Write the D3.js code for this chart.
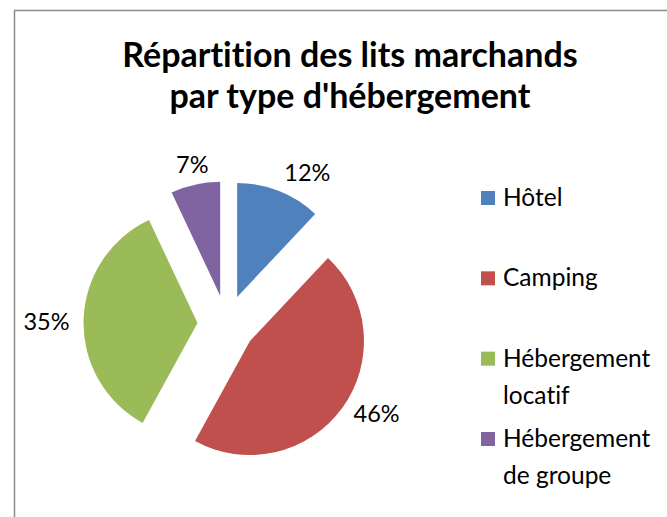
<!DOCTYPE html>
<html>
<head>
<meta charset="utf-8">
<script src="https://cdn.jsdelivr.net/npm/d3@7"></script>
<style>
  body { margin: 0; background: #fff; }
  svg { display: block; font-family: Lato, "Open Sans", sans-serif; }
  text, tspan { font-variant-ligatures: none; font-feature-settings: "liga" 0, "clig" 0, "dlig" 0; }
  .title { font-weight: bold; font-size: 34px; fill: #000; }
  .pct { font-size: 23.5px; fill: #000; }
  .legend-text { font-size: 24.5px; fill: #000; }
</style>
</head>
<body>
<svg width="667" height="517"></svg>
<script>
// chart data
const categories = ['Hôtel', 'Camping', 'Hébergement locatif', 'Hébergement de groupe'];
const shares = [12, 46, 35, 7];
const colors = ['#4F81BD', '#C0504D', '#9BBB59', '#8064A2'];
const legendLines = [['Hôtel'], ['Camping'], ['Hébergement', 'locatif'], ['Hébergement', 'de groupe']];
const titleLines = ['Répartition des lits marchands', "par type d'hébergement"];

const svg = d3.select('svg');
const width = Number(svg.attr('width'));
const height = Number(svg.attr('height'));

// chart frame (right and bottom edges fall outside the picture)
svg.append('rect')
    .attr('x', 14.5).attr('y', 10.5)
    .attr('width', width + 20).attr('height', height + 20)
    .attr('fill', '#fff')
    .attr('stroke', '#8c8c8c')
    .attr('stroke-width', 1.5);

// title
svg.append('text')
    .attr('class', 'title')
    .attr('text-anchor', 'middle')
    .selectAll('tspan')
    .data(titleLines)
    .enter()
    .append('tspan')
    .attr('x', 350)
    .attr('y', (d, i) => 67 + i * 41)
    .text(d => d);

// pie
const cx = 226.5, cy = 324;
const radius = 114;
const explode = 29;

const pie = d3.pie().sort(null).value(d => d);
const arcs = pie(shares);
const arc = d3.arc().innerRadius(0).outerRadius(radius);

const pieG = svg.append('g').attr('transform', `translate(${cx},${cy})`);

const slices = pieG.selectAll('.slice')
    .data(arcs)
    .enter()
    .append('g')
    .attr('class', 'slice')
    .attr('transform', d => {
        const a = (d.startAngle + d.endAngle) / 2;
        return `translate(${explode * Math.sin(a)},${-explode * Math.cos(a)})`;
    });

slices.append('path')
    .attr('d', arc)
    .attr('fill', (d, i) => colors[i]);

// percentage labels, outside end
const labelR = radius + 14;
const mid = d => (d.startAngle + d.endAngle) / 2;
slices.append('text')
    .attr('class', 'pct')
    .attr('dominant-baseline', 'central')
    .attr('x', d => labelR * Math.sin(mid(d)))
    .attr('y', d => -labelR * Math.cos(mid(d)) - 9 * Math.abs(Math.cos(mid(d))) + 2)
    .attr('text-anchor', d => {
        const s = Math.sin(mid(d));
        return s > 0.3 ? 'start' : (s < -0.3 ? 'end' : 'middle');
    })
    .text(d => d.data + '%');

// legend
const legendY = d3.scalePoint()
    .domain(categories)
    .range([191, 432]);

const legend = svg.append('g')
    .selectAll('.legend-item')
    .data(categories)
    .enter()
    .append('g')
    .attr('class', 'legend-item')
    .attr('transform', d => `translate(481,${legendY(d)})`);

legend.append('rect')
    .attr('width', 14)
    .attr('height', 14)
    .attr('fill', (d, i) => colors[i]);

legend.append('text')
    .attr('class', 'legend-text')
    .selectAll('tspan')
    .data((d, i) => legendLines[i])
    .enter()
    .append('tspan')
    .attr('x', 22)
    .attr('y', (d, j) => 15 + j * 37)
    .text(d => d);
</script>
</body>
</html>
